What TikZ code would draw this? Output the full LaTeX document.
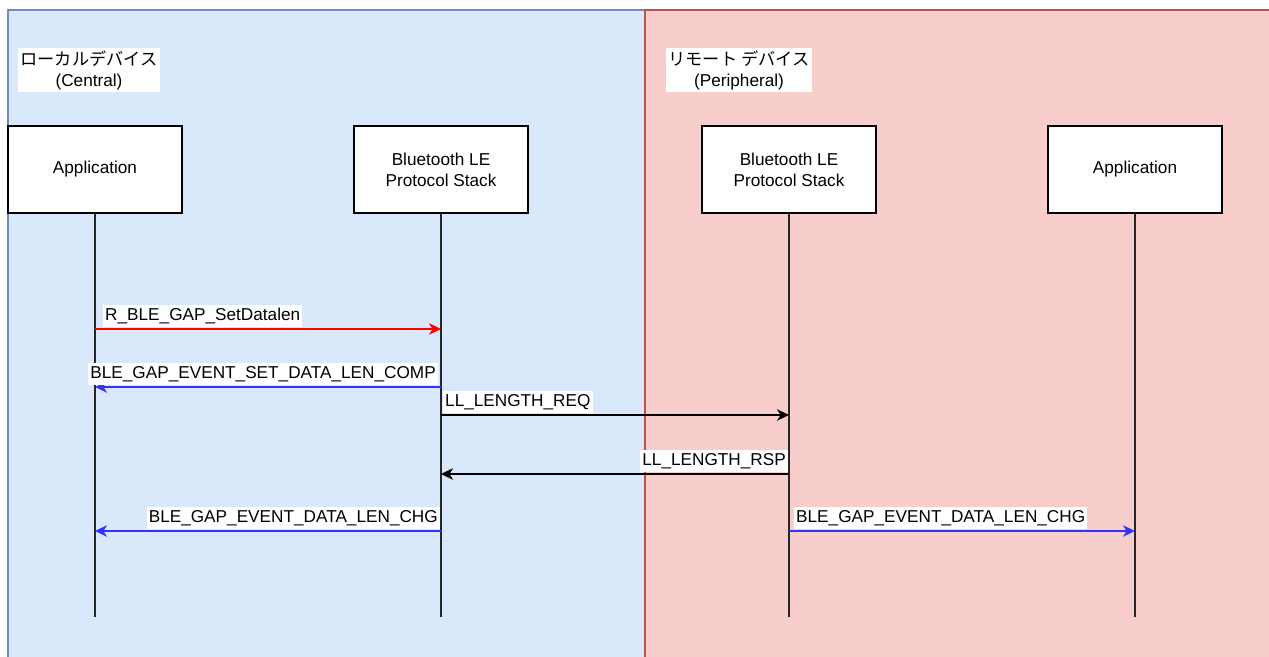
\documentclass[tikz,border=0pt]{standalone}
\usepackage{fontspec}
\setmainfont{Liberation Sans}
\newfontfamily\cjk{Noto Sans CJK JP}
\usetikzlibrary{arrows.meta}
\definecolor{bfill}{HTML}{DAE8FC}
\definecolor{bline}{HTML}{6C8EBF}
\definecolor{rfill}{HTML}{F8CECC}
\definecolor{rline}{HTML}{B85450}
\definecolor{msgblue}{HTML}{3333FF}
\definecolor{msgred}{HTML}{FF0000}
\begin{document}
\begin{tikzpicture}[x=1pt,y=-1pt,
  font=\fontsize{17.2}{21}\selectfont,
  pbox/.style={draw=black, fill=white, line width=1.2pt, minimum width=174pt, minimum height=87pt, align=center, inner sep=0pt},
  life/.style={draw=black!85, line width=1.3pt},
  msg/.style={line width=1.3pt, -{Stealth[length=12pt,width=11.5pt,inset=3.5pt]}},
  lbl/.style={fill=white, inner sep=2pt, text height=13.5pt, text depth=4pt},
  grp/.style={fill=white, align=center, inner sep=2.5pt}
]
\useasboundingbox (0,0) rectangle (1269,656);
\clip (0,0) rectangle (1269,656);
\draw[bline, fill=bfill, line width=1.2pt] (8,10) rectangle (645,720);
\draw[rline, fill=rfill, line width=1.2pt] (645,10) rectangle (1320,720);

\node[grp] (g1) at (89,70) {{\cjk ローカルデバイス}\\(Central)};
\node[grp] (g2) at (739,70) {{\cjk リモート デバイス}\\(Peripheral)};

\node[pbox] (p1) at (95,169.5) {Application};
\node[pbox] (p2) at (441,169.5) {Bluetooth LE\\Protocol Stack};
\node[pbox] (p3) at (789,169.5) {Bluetooth LE\\Protocol Stack};
\node[pbox] (p4) at (1135,169.5) {Application};

\coordinate (e1) at (95,617);
\coordinate (e2) at (441,617);
\coordinate (e3) at (789,617);
\coordinate (e4) at (1135,617);
\draw[life] (p1.south) -- (e1);
\draw[life] (p2.south) -- (e2);
\draw[life] (p3.south) -- (e3);
\draw[life] (p4.south) -- (e4);

% message end points
\coordinate (a1) at (95,329);  \coordinate (b1) at (441,329);
\coordinate (a2) at (441,387); \coordinate (b2) at (95,387);
\coordinate (a3) at (441,415); \coordinate (b3) at (789,415);
\coordinate (a4) at (789,474); \coordinate (b4) at (441,474);
\coordinate (a5) at (441,531); \coordinate (b5) at (95,531);
\coordinate (a6) at (789,531); \coordinate (b6) at (1135,531);

\draw[msg, msgred] (a1) -- (b1);
\draw[msg, msgblue] (a2) -- (b2);
\draw[msg, black] (a3) -- (b3);
\draw[msg, black] (a4) -- (b4);
\draw[msg, msgblue] (a5) -- (b5);
\draw[msg, msgblue] (a6) -- (b6);

\node[lbl, anchor=south west] (l1) at (103,327) {R\_BLE\_GAP\_SetDatalen};
\node[lbl, anchor=south east] (l2) at (438,385) {BLE\_GAP\_EVENT\_SET\_DATA\_LEN\_COMP};
\node[lbl, anchor=south west] (l3) at (443,413) {LL\_LENGTH\_REQ};
\node[lbl, anchor=south east] (l4) at (788,472) {LL\_LENGTH\_RSP};
\node[lbl, anchor=south east] (l5) at (440,529) {BLE\_GAP\_EVENT\_DATA\_LEN\_CHG};
\node[lbl, anchor=south west] (l6) at (794,529) {BLE\_GAP\_EVENT\_DATA\_LEN\_CHG};
\end{tikzpicture}
\end{document}
